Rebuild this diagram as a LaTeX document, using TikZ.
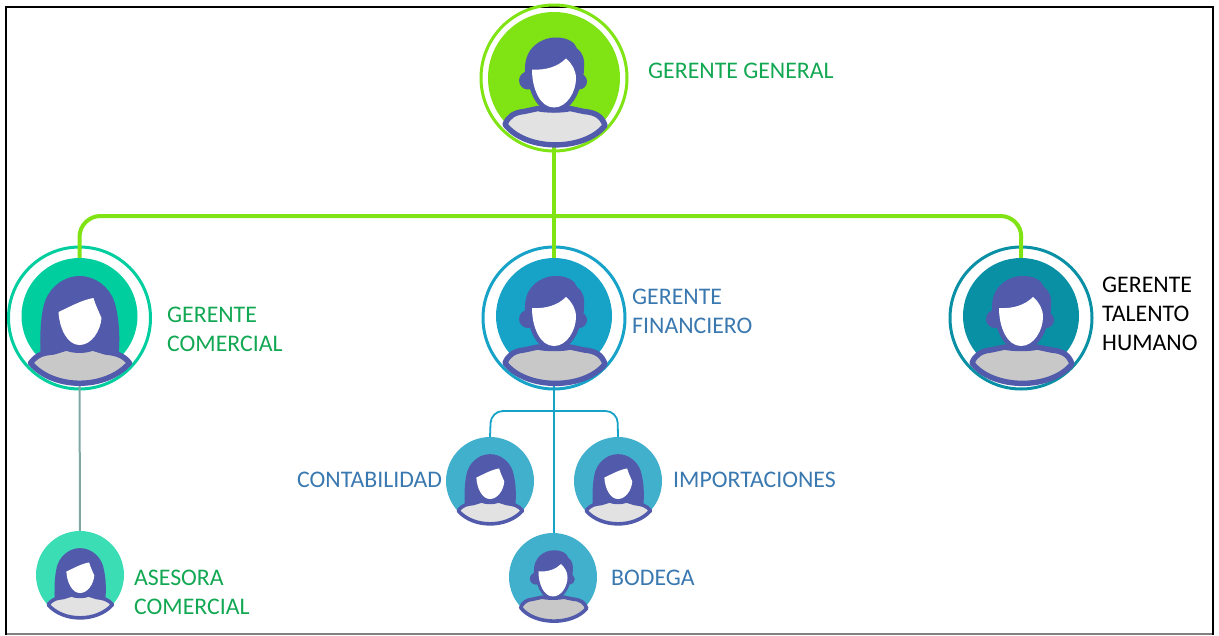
\documentclass[tikz,border=0pt]{standalone}
\usepackage{fontspec}
\setmainfont{Carlito}
\definecolor{hair}{HTML}{525AAB}
\definecolor{cgg}{HTML}{7FE314}
\definecolor{cgc}{HTML}{00CE9E}
\definecolor{cgf}{HTML}{17A2C8}
\definecolor{cgt}{HTML}{0A90A5}
\definecolor{csm}{HTML}{41B0CC}
\definecolor{cas}{HTML}{3BDDB5}
\definecolor{tgreen}{HTML}{12A853}
\definecolor{tblue}{HTML}{3A78B0}
\definecolor{llight}{HTML}{E2E2E2}
\definecolor{lgray}{HTML}{C8C8C8}
\definecolor{lteal}{HTML}{7FA8A5}
\def\flw{5.4pt}
\def\fout{10pt}
\tikzset{
  x=1pt,y=-1pt,
  disc/.style={circle,fill=#1,draw=none,inner sep=0pt},
  bigdisc/.style={disc=#1,minimum size=116pt},
  topdisc/.style={disc=#1,minimum size=132pt},
  smalldisc/.style={disc=#1,minimum size=88pt},
  ringnode/.style={circle,draw=#1,fill=none,line width=3pt,inner sep=0pt},
  lbl/.style={anchor=west,align=left,inner sep=0pt,font=\fontsize{23.8}{28.8}\selectfont},
  mainline/.style={cgg,line width=4pt,rounded corners=21pt},
  subline/.style={cgf,line width=1.8pt,rounded corners=12pt},
  man/.pic={
    \fill[hair] (-26,4) circle (9);
    \fill[hair] (25,5) circle (8);
    \fill[hair] (-22,10) .. controls (-28,4) and (-30,0) .. (-29,-8)
      .. controls (-29,-28) and (-14,-39) .. (2,-39)
      .. controls (14,-39) and (21,-34) .. (23,-28)
      .. controls (29,-24) and (31,-16) .. (30,-8)
      .. controls (30,0) and (28,6) .. (22,12) -- cycle;
    \fill[pic actions] (-49,48) .. controls (-46,40) and (-40,36) .. (-30,35)
      -- (-16,32) .. controls (-10,34) and (10,34) .. (16,32)
      -- (30,35) .. controls (42,36) and (48,40) .. (51,49)
      .. controls (30,75) and (-28,75) .. (-49,48) -- cycle;
    \draw[hair,line width=\flw,line join=round] (-49,48) .. controls (-46,40) and (-40,36) .. (-30,35)
      -- (-16,32) .. controls (-10,34) and (10,34) .. (16,32)
      -- (30,35) .. controls (42,36) and (48,40) .. (51,49)
      .. controls (30,75) and (-28,75) .. (-49,48) -- cycle;
    \draw[hair,line width=\fout,line join=round] (-22,-7) .. controls (-22,10) and (-14,31) .. (0,31)
      .. controls (13,31) and (22,14) .. (22,2);
    \fill[white] (-22,-7) .. controls (-8,-6) and (4,-10) .. (12,-18)
      .. controls (18,-13) and (22,-6) .. (22,2)
      .. controls (22,15) and (13,31) .. (0,31)
      .. controls (-14,31) and (-22,12) .. (-22,-7) -- cycle;
  },
  woman/.pic={
    \fill[hair] (-39,40) .. controls (-40,15) and (-38,-5) .. (-34,-15)
      .. controls (-28,-30) and (-14,-39) .. (0,-39)
      .. controls (16,-39) and (30,-28) .. (35,-13)
      .. controls (39,0) and (41,20) .. (39,40) -- cycle;
    \fill[pic actions] (-49,48) .. controls (-42,39) and (-36,38) .. (-26,37)
      -- (-13,33) .. controls (-6,36) and (6,36) .. (13,33)
      -- (26,37) .. controls (36,38) and (44,40) .. (50,48)
      .. controls (26,75) and (-26,75) .. (-49,48) -- cycle;
    \draw[hair,line width=\flw,line join=round] (-49,48) .. controls (-42,39) and (-36,38) .. (-26,37)
      -- (-13,33) .. controls (-6,36) and (6,36) .. (13,33)
      -- (26,37) .. controls (36,38) and (44,40) .. (50,48)
      .. controls (26,75) and (-26,75) .. (-49,48) -- cycle;
    \fill[white] (-21,-3) .. controls (-10,-8) and (2,-15) .. (14,-17)
      .. controls (16,-10) and (19,-4) .. (22,3)
      .. controls (21,16) and (12,30) .. (0,30)
      .. controls (-12,30) and (-20,14) .. (-21,-3) -- cycle;
  },
}
\begin{document}
\begin{tikzpicture}
\useasboundingbox (0,0) rectangle (1219,635);
\draw[gray,line width=1.5pt] (6,634) -- (1212.5,634);
\draw[black,line width=2pt] (6.3,635) -- (6.3,6.5) -- (1212.5,6.5) -- (1212.5,635);
% discs
\node[ringnode=cgg,minimum size=146pt] (rgg) at (554,78) {};
\node[topdisc=cgg] (gg) at (554,78) {};
\node[ringnode=cgc,minimum size=142pt] (rgc) at (79.5,318) {};
\node[bigdisc=cgc] (gc) at (79.5,316) {};
\node[ringnode=cgf,minimum size=142pt] (rgf) at (554,318) {};
\node[bigdisc=cgf] (gf) at (554,316) {};
\node[ringnode=cgt,minimum size=142pt] (rgt) at (1021,318) {};
\node[bigdisc=cgt] (gt) at (1021,316) {};
\node[smalldisc=cas] (as) at (80,575) {};
\node[smalldisc=csm] (co) at (490,481) {};
\node[smalldisc=csm] (im) at (618,481) {};
\node[smalldisc=csm] (bo) at (553,577) {};
% connectors
\coordinate (busl) at (79.5,216);
\coordinate (busr) at (1021.5,216);
\draw[mainline] (gc.north) -- (busl) -- (busr) -- (gt.north);
\draw[mainline] (gg.south) -- (gf.north);
\coordinate (subl) at (491,411);
\coordinate (subr) at (617.5,411);
\draw[lteal,line width=2pt] (gc.south) -- (as.north);
\draw[subline] (gf.south) -- (bo.north -| gf.south);
\draw[subline] (co.north) -- (subl) -- (subr) -- (im.north);
% figures
\pic[fill=llight,shift={(0,-1.5)}] at (gg) {man};
\pic[fill=lgray,shift={(0,-1)}] at (gf) {man};
\pic[fill=lgray,shift={(0,-1)}] at (gt) {man};
\pic[fill=lgray,shift={(0,-1)}] at (gc) {woman};
\begin{scope}
\def\flw{3.6pt}
\def\fout{6.5pt}
\pic[fill=llight,shift={(0,-1.5)},scale=.65] at (as) {woman};
\pic[fill=llight,shift={(0,-1.5)},scale=.65] at (co) {woman};
\pic[fill=llight,shift={(0,-1.5)},scale=.65] at (im) {woman};
\pic[fill=lgray,shift={(0,-1)},scale=.66] at (bo) {man};
\end{scope}
% labels
\node[lbl,text=tgreen] (lgg) at (648,70.5) {GERENTE GENERAL};
\node[lbl,text=tgreen] (lgc) at (167,329) {GERENTE\\COMERCIAL};
\node[lbl,text=tblue] (lgf) at (632,311) {GERENTE\\FINANCIERO};
\node[lbl,text=black] (lgt) at (1102,314) {GERENTE\\TALENTO\\HUMANO};
\node[lbl,text=tblue] (lco) at (297,479.5) {CONTABILIDAD};
\node[lbl,text=tblue] (lim) at (673,479.5) {IMPORTACIONES};
\node[lbl,text=tgreen] (las) at (134,592) {ASESORA\\COMERCIAL};
\node[lbl,text=tblue] (lbo) at (611,578) {BODEGA};
\end{tikzpicture}
\end{document}
